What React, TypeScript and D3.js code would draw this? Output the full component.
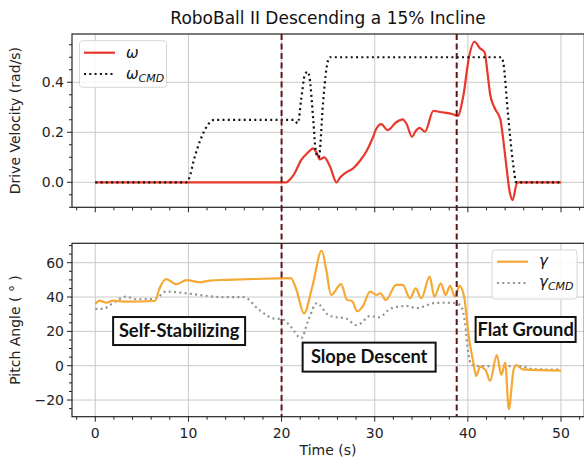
import * as d3 from "d3";

// ---- data ----
const OMEGA_T = [0, 20.5, 21.0, 21.4, 22.1, 22.8, 23.4, 23.8, 24.1, 24.6, 25.2, 25.9, 26.3, 26.8, 27.7, 28.4, 29.1, 29.7, 30.2, 30.7, 31.4, 32.3, 33.0, 33.4, 34.0, 34.4, 34.8, 35.4, 36.3, 37.0, 38.4, 38.9, 39.5, 40.1, 40.7, 41.3, 41.8, 42.1, 42.4, 42.9, 43.5, 43.7, 44.1, 44.5, 44.8, 45.3, 50];
const OMEGA = [0, 0, 0.015, 0.036, 0.089, 0.118, 0.136, 0.115, 0.092, 0.1, 0.063, 0.0, 0.02, 0.036, 0.056, 0.085, 0.123, 0.17, 0.216, 0.233, 0.209, 0.24, 0.252, 0.235, 0.182, 0.205, 0.218, 0.203, 0.286, 0.281, 0.272, 0.265, 0.343, 0.496, 0.562, 0.536, 0.52, 0.44, 0.35, 0.295, 0.25, 0.2, 0.076, -0.04, -0.071, 0, 0];

const OMEGA_CMD_T = [0, 9.8, 10.2, 10.5, 11.0, 11.6, 12.2, 12.8, 21.3, 21.75, 22.1, 22.5, 22.8, 23.0, 23.4, 23.7, 24.0, 24.45, 24.8, 25.2, 43.6, 43.8, 44.3, 44.85, 45.2, 50];
const OMEGA_CMD = [0, 0, 0.03, 0.077, 0.14, 0.197, 0.235, 0.25, 0.25, 0.236, 0.33, 0.43, 0.442, 0.42, 0.25, 0.117, 0.1, 0.316, 0.45, 0.5, 0.5, 0.48, 0.276, 0.076, 0, 0];

const GAMMA_T = [0, 0.46, 1.2, 1.9, 3.3, 6.4, 6.9, 7.6, 8.7, 9.8, 11.2, 12.3, 14.1, 17, 21.0, 21.6, 22.4, 23.3, 24.3, 24.8, 25.3, 26.4, 27.0, 27.6, 28.1, 28.7, 29.5, 30.2, 30.6, 31.2, 32.3, 33.0, 33.8, 34.4, 35.0, 35.9, 36.4, 37.1, 37.6, 38.1, 38.6, 39.1, 39.6, 40.1, 40.6, 40.9, 41.3, 41.9, 42.4, 43.1, 43.6, 44.0, 44.4, 44.9, 45.2, 45.9, 50];
const GAMMA = [36.0, 37.9, 36.7, 37.9, 37.3, 37.7, 45.1, 50.4, 47.5, 49.9, 48.6, 49.6, 50, 50.5, 51, 44.1, 30.5, 46, 67.1, 55.8, 41.2, 47.5, 38.5, 37.5, 31.7, 34.4, 43.2, 41.2, 42.2, 38.3, 47.1, 47.1, 39.3, 45.1, 39.3, 51.9, 40.2, 48.0, 41.2, 46.5, 40.2, 46.5, 40.2, 16.9, 1.4, -6.0, -0.6, -2.6, -8.9, 6.2, -5.4, 1.8, -25.3, -2.5, 0.4, -2.1, -2.9];

const GAMMA_CMD_T = [0, 0.8, 1.9, 3.3, 4.4, 6.4, 7.6, 9.1, 11.2, 13.4, 15.9, 17.6, 19.1, 20.1, 21.0, 22.1, 22.9, 23.8, 24.9, 25.5, 26.9, 28.0, 28.4, 29.5, 30.4, 31.8, 33.4, 34.5, 35.2, 36.3, 37.6, 38.7, 39.3, 39.7, 40.0, 40.4, 41.3, 45.6, 47.0, 50];
const GAMMA_CMD = [33.1, 33.1, 36.4, 40.2, 38.7, 38.9, 43.2, 42.6, 41.2, 40.0, 40.0, 32.5, 27.6, 27.0, 22.7, 16.0, 27, 36.5, 30, 28.5, 27.6, 23.7, 24.3, 29.0, 28.2, 33.5, 34.8, 33.5, 34.4, 36.4, 36.7, 36.4, 34.4, 24.7, 9.2, 0.4, -0.2, -0.2, -2.0, -2.3];

const PHASE_LINES = [20, 38.8];
const X_TICKS = [0, 10, 20, 30, 40, 50];
const TOP_Y_TICKS = [0.0, 0.2, 0.4];
const BOT_Y_TICKS = [-20, 0, 20, 40, 60];

const PHASE_LABELS = ["Self-Stabilizing", "Slope Descent", "Flat Ground"];
const PHASE_T = [9.0, 29.4, 46.2];
const PHASE_Y = [20.2, 5.0, 21.1];

// annotation box sizes (px)
const BOX_W = [132, 133, 100];
const BOX_H = [28, 29, 25];

const W = 584;
const H = 459;
const FONT = "'DejaVu Sans', sans-serif";
const RED = "#e8372b";
const ORANGE = "#f5a833";
const GREY = "#939393";
const MAROON = "#5a1717";

const x = d3.scaleLinear().domain([-2.5, 52.5]).range([72, 584.3]);
const yTop = d3.scaleLinear().domain([-0.1, 0.593]).range([207.3, 34]);
const yBot = d3.scaleLinear().domain([-29.7, 71.3]).range([416.7, 243.3]);

const zip = (t: number[], v: number[]) => t.map((d, i) => [d, v[i]] as [number, number]);

function Axes({ y, yTicks, yMinor, fmt, showX }: { y: d3.ScaleLinear<number, number>; yTicks: number[]; yMinor: number[]; fmt: (v: number) => string; showX: boolean }) {
  const [x0, x1] = x.range();
  const [y0, y1] = y.range();
  const xMinor = d3.range(-2, 53, 2).filter((v) => v % 10 !== 0);
  return (
    <g>
      {X_TICKS.map((t) => (
        <line key={"gx" + t} x1={x(t)} x2={x(t)} y1={y0} y2={y1} stroke="#c9c9c9" strokeWidth={1} />
      ))}
      {yTicks.map((v) => (
        <line key={"gy" + v} x1={x0} x2={x1} y1={y(v)} y2={y(v)} stroke="#c9c9c9" strokeWidth={1} />
      ))}
      {X_TICKS.map((t) => (
        <g key={"tx" + t}>
          <line x1={x(t)} x2={x(t)} y1={y0} y2={y0 + 5} stroke="#222" />
          {showX && (
            <text x={x(t)} y={y0 + 21} textAnchor="middle" fontSize={14} fontFamily={FONT} fill="#222">{t}</text>
          )}
        </g>
      ))}
      {xMinor.map((t) => (
        <line key={"mx" + t} x1={x(t)} x2={x(t)} y1={y0} y2={y0 + 3} stroke="#222" />
      ))}
      {yTicks.map((v) => (
        <g key={"ty" + v}>
          <line x1={x0 - 5} x2={x0} y1={y(v)} y2={y(v)} stroke="#222" />
          <text x={x0 - 8} y={y(v) + 5} textAnchor="end" fontSize={14} fontFamily={FONT} fill="#222">{fmt(v)}</text>
        </g>
      ))}
      {yMinor.map((v) => (
        <line key={"my" + v} x1={x0 - 3} x2={x0} y1={y(v)} y2={y(v)} stroke="#222" />
      ))}
    </g>
  );
}

function Frame({ y }: { y: d3.ScaleLinear<number, number> }) {
  const [x0, x1] = x.range();
  const [y0, y1] = y.range();
  return <rect x={x0} y={y1} width={x1 - x0} height={y0 - y1} fill="none" stroke="#222" strokeWidth={1.2} />;
}

export default function App() {
  const lineTop = d3.line<[number, number]>().x((d) => x(d[0])).y((d) => yTop(d[1])).curve(d3.curveMonotoneX);
  const lineBot = d3.line<[number, number]>().x((d) => x(d[0])).y((d) => yBot(d[1])).curve(d3.curveMonotoneX);

  const topMinor = d3.range(-0.1, 0.6, 0.05).map((v) => +v.toFixed(2)).filter((v) => Math.abs(v * 5 - Math.round(v * 5)) > 1e-6);
  const botMinor = d3.range(-25, 71, 5).filter((v) => v % 20 !== 0);

  return (
    <div style={{ position: "absolute", left: 0, top: 0 }}>
      <svg width={W} height={H} style={{ display: "block", background: "#fff" }}>
        <text x={328} y={24} textAnchor="middle" fontSize={17} fontFamily={FONT} fill="#111">RoboBall II Descending a 15% Incline</text>

        {/* top panel */}
        <Axes y={yTop} yTicks={TOP_Y_TICKS} yMinor={topMinor} fmt={(v) => v.toFixed(1)} showX={false} />
        <path d={lineTop(zip(OMEGA_T, OMEGA)) ?? ""} fill="none" stroke={RED} strokeWidth={2.2} />
        <path d={lineTop(zip(OMEGA_CMD_T, OMEGA_CMD)) ?? ""} fill="none" stroke="#111" strokeWidth={2.2} strokeDasharray="2 3.3" />
        <Frame y={yTop} />
        <text transform={`translate(20,${(34 + 207.3) / 2}) rotate(-90)`} textAnchor="middle" fontSize={14} fontFamily={FONT} fill="#222">Drive Velocity (rad/s)</text>

        <g>
          <rect x={79.5} y={40.7} width={87} height={46.6} rx={3} fill="#fff" fillOpacity={0.85} stroke="#d6d6d6" />
          <line x1={84} x2={115} y1={52.7} y2={52.7} stroke={RED} strokeWidth={2.2} />
          <line x1={84} x2={115} y1={74} y2={74} stroke="#111" strokeWidth={2.2} strokeDasharray="2 3.3" />
          <text x={126} y={57.5} fontSize={15} fontFamily={FONT} fontStyle="italic" fill="#111">ω</text>
          <text x={126} y={78.5} fontSize={15} fontFamily={FONT} fontStyle="italic" fill="#111">
            ω<tspan fontSize={11} dy={3}>CMD</tspan>
          </text>
        </g>

        {/* bottom panel */}
        <Axes y={yBot} yTicks={BOT_Y_TICKS} yMinor={botMinor} fmt={(v) => (v < 0 ? "\u2212" + Math.abs(v) : String(v))} showX={true} />
        <path d={lineBot(zip(GAMMA_CMD_T, GAMMA_CMD)) ?? ""} fill="none" stroke={GREY} strokeWidth={2.2} strokeDasharray="2 3.3" />
        <path d={lineBot(zip(GAMMA_T, GAMMA)) ?? ""} fill="none" stroke={ORANGE} strokeWidth={2.2} />
        <Frame y={yBot} />
        <text transform={`translate(20,${(243.3 + 416.7) / 2}) rotate(-90)`} textAnchor="middle" fontSize={14} fontFamily={FONT} fill="#222">Pitch Angle ( ° )</text>
        <text x={328} y={455} textAnchor="middle" fontSize={14} fontFamily={FONT} fill="#222">Time (s)</text>

        <g>
          <rect x={492} y={250} width={85} height={49} rx={3} fill="#fff" fillOpacity={0.85} stroke="#d6d6d6" />
          <line x1={497} x2={528} y1={261.7} y2={261.7} stroke={ORANGE} strokeWidth={2.2} />
          <line x1={497} x2={528} y1={283} y2={283} stroke={GREY} strokeWidth={2.2} strokeDasharray="2 3.3" />
          <text x={539} y={266} fontSize={15} fontFamily={FONT} fontStyle="italic" fill="#111">γ</text>
          <text x={539} y={287} fontSize={15} fontFamily={FONT} fontStyle="italic" fill="#111">
            γ<tspan fontSize={11} dy={3}>CMD</tspan>
          </text>
        </g>

        {/* phase boundaries spanning both panels */}
        {PHASE_LINES.map((t) => (
          <line key={"ph" + t} x1={x(t)} x2={x(t)} y1={34} y2={416.7} stroke={MAROON} strokeWidth={2} strokeDasharray="6 3.5" />
        ))}

        {PHASE_LABELS.map((label, i) => {
          const cx = x(PHASE_T[i]);
          const cy = yBot(PHASE_Y[i]);
          const w = BOX_W[i];
          const h = BOX_H[i];
          return (
            <g key={label}>
              <rect x={cx - w / 2} y={cy - h / 2} width={w} height={h} fill="#fff" stroke="#111" strokeWidth={2} />
              <text x={cx} y={cy + 6.3} textAnchor="middle" fontSize={18.3} fontWeight={700} fontFamily="Lato, 'Open Sans', sans-serif" fill="#111">{label}</text>
            </g>
          );
        })}
      </svg>
    </div>
  );
}
